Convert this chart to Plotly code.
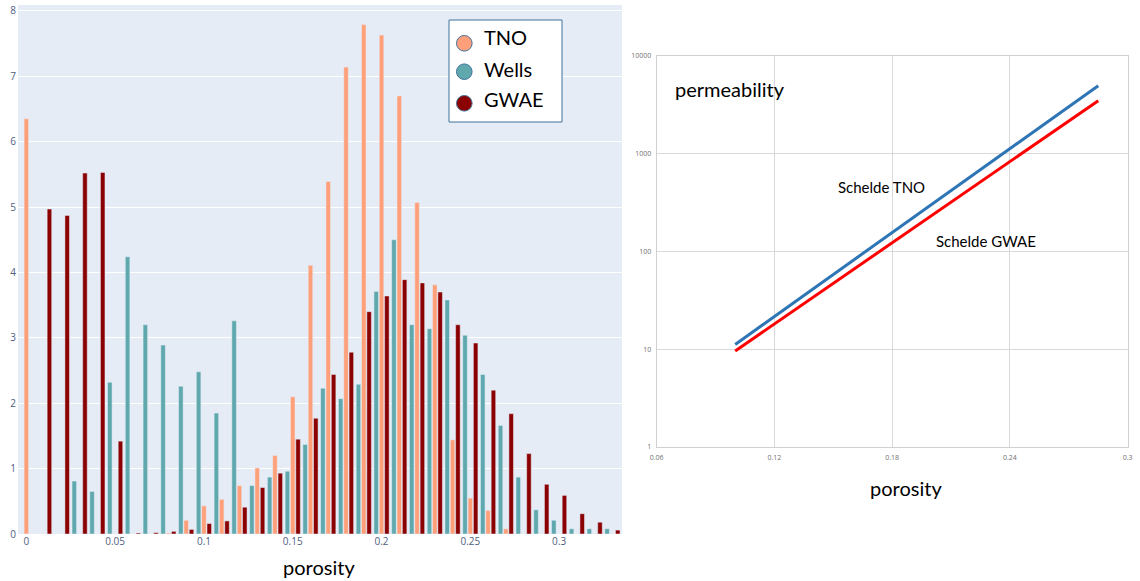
import plotly.graph_objects as go

# ---- porosity histogram (fraction per 0.01 porosity bin) ----
porosity_bins = [0.00, 0.01, 0.02, 0.03, 0.04, 0.05, 0.06, 0.07, 0.08, 0.09,
                 0.10, 0.11, 0.12, 0.13, 0.14, 0.15, 0.16, 0.17, 0.18, 0.19,
                 0.20, 0.21, 0.22, 0.23, 0.24, 0.25, 0.26, 0.27, 0.28, 0.29,
                 0.30, 0.31, 0.32, 0.33]

tno = [6.35, 0, 0, 0, 0, 0, 0, 0, 0.015, 0.21,
       0.43, 0.53, 0.74, 1.01, 1.20, 2.10, 4.11, 5.39, 7.14, 7.79,
       7.63, 6.70, 5.07, 3.81, 1.44, 0.55, 0.36, 0.08, 0, 0,
       0, 0, 0, 0]

wells = [0, 0, 0, 0.81, 0.65, 2.32, 4.24, 3.20, 2.89, 2.26,
         2.48, 1.85, 3.26, 0.74, 0.87, 0.96, 1.37, 2.23, 2.07, 2.29,
         3.71, 4.50, 3.20, 3.14, 3.58, 3.04, 2.44, 1.66, 0.87, 0.37,
         0.21, 0.08, 0.08, 0.08]

gwae = [0, 4.97, 4.87, 5.52, 5.53, 1.42, 0.015, 0.02, 0.04, 0.07,
        0.16, 0.20, 0.41, 0.71, 0.93, 1.45, 1.77, 2.44, 2.78, 3.40,
        3.64, 3.89, 3.84, 3.70, 3.20, 2.92, 2.20, 1.84, 1.23, 0.76,
        0.59, 0.31, 0.18, 0.06]

hist_xticks = [0, 0.05, 0.1, 0.15, 0.2, 0.25, 0.3]
hist_xticktext = ["0", "0.05", "0.1", "0.15", "0.2", "0.25", "0.3"]
hist_yticks = [0, 1, 2, 3, 4, 5, 6, 7, 8]

# ---- porosity-permeability relations (end points of each line) ----
phi_line = [0.10, 0.285]
perm_tno = [11.2, 4970]
perm_gwae = [9.6, 3490]

pp_xticks = [0.06, 0.12, 0.18, 0.24, 0.3]
pp_xticktext = ["0.06", "0.12", "0.18", "0.24", "0.3"]
pp_yticks = [1, 10, 100, 1000, 10000]
pp_yticktext = ["1", "10", "100", "1000", "10000"]

legend_names = ["TNO", "Wells", "GWAE"]

W, H = 1140, 581
FONT = "Lato"
colors = {"TNO": "#FFA07A", "Wells": "#5FA8AD", "GWAE": "#8B0000"}


def fx(p):
    return p / W


def fy(p):
    return 1 - p / H


fig = go.Figure()

# grouped bars: Wells left, TNO centre, GWAE right within each bin
for name, vals in (("Wells", wells), ("TNO", tno), ("GWAE", gwae)):
    fig.add_trace(go.Bar(
        x=porosity_bins, y=vals, name=name,
        marker=dict(color=colors[name], line=dict(color="#E5ECF6", width=0.5)),
        xaxis="x", yaxis="y", showlegend=False,
    ))

fig.add_trace(go.Scatter(
    x=phi_line, y=perm_tno, mode="lines", name="Schelde TNO",
    line=dict(color="#2E75B6", width=3), xaxis="x2", yaxis="y2", showlegend=False,
))
fig.add_trace(go.Scatter(
    x=phi_line, y=perm_gwae, mode="lines", name="Schelde GWAE",
    line=dict(color="#FF0000", width=3), xaxis="x2", yaxis="y2", showlegend=False,
))

tick_font_l = dict(family="Open Sans", size=10, color="#50607F")
tick_font_r = dict(family="Open Sans", size=7, color="#707070")

fig.update_layout(
    width=W, height=H,
    margin=dict(l=0, r=0, t=0, b=0, autoexpand=False),
    paper_bgcolor="white",
    plot_bgcolor="white",
    barmode="group",
    bargap=0.1,
    bargroupgap=0.15,
    xaxis=dict(
        domain=[fx(18), fx(622)], range=[-0.0047, 0.3354],
        tickvals=hist_xticks, ticktext=hist_xticktext,
        showgrid=False, zeroline=False, showline=False, ticks="",
        tickfont=tick_font_l, anchor="y", automargin=False,
    ),
    yaxis=dict(
        domain=[fy(534), fy(5)], range=[0, 8.09],
        tickvals=hist_yticks, showgrid=True, gridcolor="white", gridwidth=1,
        zeroline=False, showline=False, ticks="",
        tickfont=tick_font_l, anchor="x", automargin=False,
        ticklabelstandoff=1,
    ),
    xaxis2=dict(
        domain=[fx(656.7), fx(1127.7)], range=[0.06, 0.3],
        tickvals=pp_xticks, ticktext=pp_xticktext,
        showgrid=True, gridcolor="#D9D9D9", gridwidth=1,
        showline=True, linecolor="#D0D0D0", linewidth=1, mirror=True,
        zeroline=False, ticks="", tickfont=tick_font_r, anchor="y2",
        automargin=False, ticklabelstandoff=4,
    ),
    yaxis2=dict(
        domain=[fy(447), fy(56)], type="log", range=[0, 4],
        tickvals=pp_yticks, ticktext=pp_yticktext,
        showgrid=True, gridcolor="#D9D9D9", gridwidth=1,
        showline=True, linecolor="#D0D0D0", linewidth=1, mirror=True,
        zeroline=False, ticks="", tickfont=tick_font_r, anchor="x2",
        automargin=False, ticklabelstandoff=3,
    ),
)

shapes = [
    # histogram plotting area background
    dict(type="rect", xref="x domain", yref="y domain", x0=0, x1=1, y0=0, y1=1,
         fillcolor="#E5ECF6", line=dict(width=0), layer="below"),
    # legend box
    dict(type="rect", xref="paper", yref="paper",
         x0=fx(449), x1=fx(562), y0=fy(122), y1=fy(20),
         fillcolor="white", line=dict(color="#41719C", width=1), layer="above"),
]

annotations = []
circle_y = [43.3, 71.7, 103.3]
text_y = [37.5, 69.0, 98.5]
r = 7.8
for name, cy, ty in zip(legend_names, circle_y, text_y):
    shapes.append(dict(
        type="circle", xref="paper", yref="paper",
        x0=fx(464.3 - r), x1=fx(464.3 + r), y0=fy(cy + r), y1=fy(cy - r),
        fillcolor=colors[name], line=dict(color="#41719C", width=1), layer="above",
    ))
    annotations.append(dict(
        text=name, xref="paper", yref="paper", x=fx(482), y=fy(ty),
        xanchor="left", yanchor="middle", showarrow=False,
        font=dict(family=FONT, size=20, color="black"),
    ))

labels = [
    ("porosity", 319, 567, 20),
    ("porosity", 906, 488, 20),
    ("permeability", 730, 89, 20),
    ("Schelde TNO", 881, 187, 15),
    ("Schelde GWAE", 986, 241, 15),
]
for txt, x, y, size in labels:
    annotations.append(dict(
        text=txt, xref="paper", yref="paper", x=fx(x), y=fy(y),
        xanchor="center", yanchor="middle", showarrow=False,
        font=dict(family=FONT, size=size, color="black"),
    ))

fig.update_layout(shapes=shapes, annotations=annotations)

fig.write_html("out.html")
